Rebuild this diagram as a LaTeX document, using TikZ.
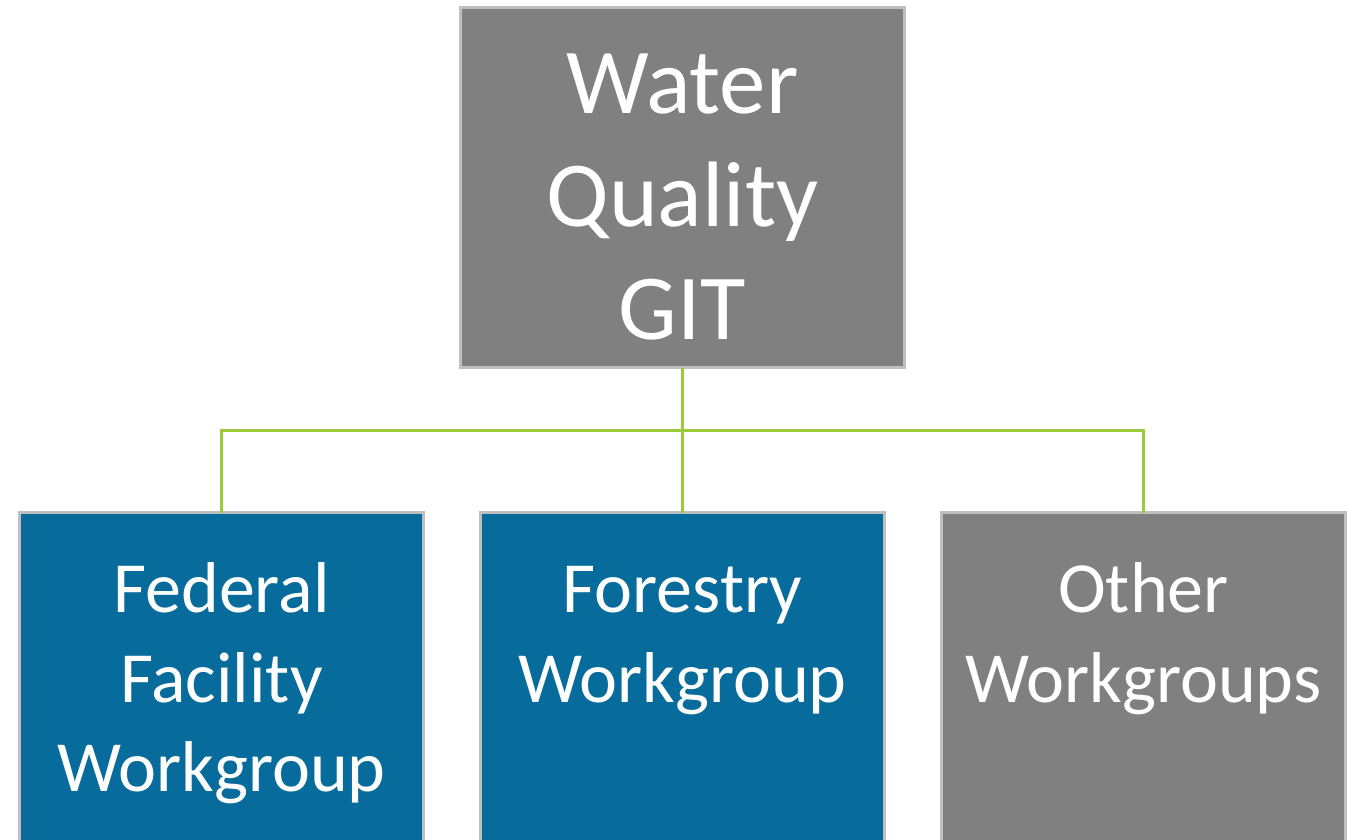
\documentclass[tikz,border=0pt]{standalone}
\usepackage{fontspec}
\setmainfont{Carlito}
\usetikzlibrary{positioning,calc}
\definecolor{boxgrey}{RGB}{128,128,128}
\definecolor{boxblue}{RGB}{7,108,156}
\definecolor{edgegrey}{RGB}{191,191,191}
\definecolor{linkgreen}{RGB}{155,203,59}

\begin{document}
\begin{tikzpicture}[x=1pt, y=-1pt,
    box/.style={rectangle, draw=edgegrey, line width=3pt, text=white, align=center, inner xsep=0pt, outer sep=0pt, anchor=north},
    topbox/.style={box, fill=boxgrey, text width=444pt, inner ysep=26.9pt, text depth=227.1pt, font=\fontsize{93}{113}\selectfont},
    groupbox/.style={box, text width=404pt, inner ysep=37.35pt, text depth=400pt, font=\fontsize{72}{89.5}\selectfont},
    link/.style={draw=linkgreen, line width=3pt}]
        \useasboundingbox (0,0) rectangle (1348,839);

        \node[topbox] (git) at (682.5,7.5) {\strut Water\\Quality\\GIT};

        \node[groupbox, fill=boxblue] (federal) at (221.5,512.5) {\strut Federal\\Facility\\Workgroup};
        \node[groupbox, fill=boxblue] (forestry) at (682.5,512.5) {\strut Forestry\\Workgroup};
        \node[groupbox, fill=boxgrey] (other) at (1143.5,512.5) {\strut Other\\Workgroups};

        % connectors
        \coordinate (bus) at (682.5,430);
        \draw[link] (git.south) -- (forestry.north);
        \draw[link] (bus) -| (federal.north);
        \draw[link] (bus) -| (other.north);
\end{tikzpicture}
\end{document}
